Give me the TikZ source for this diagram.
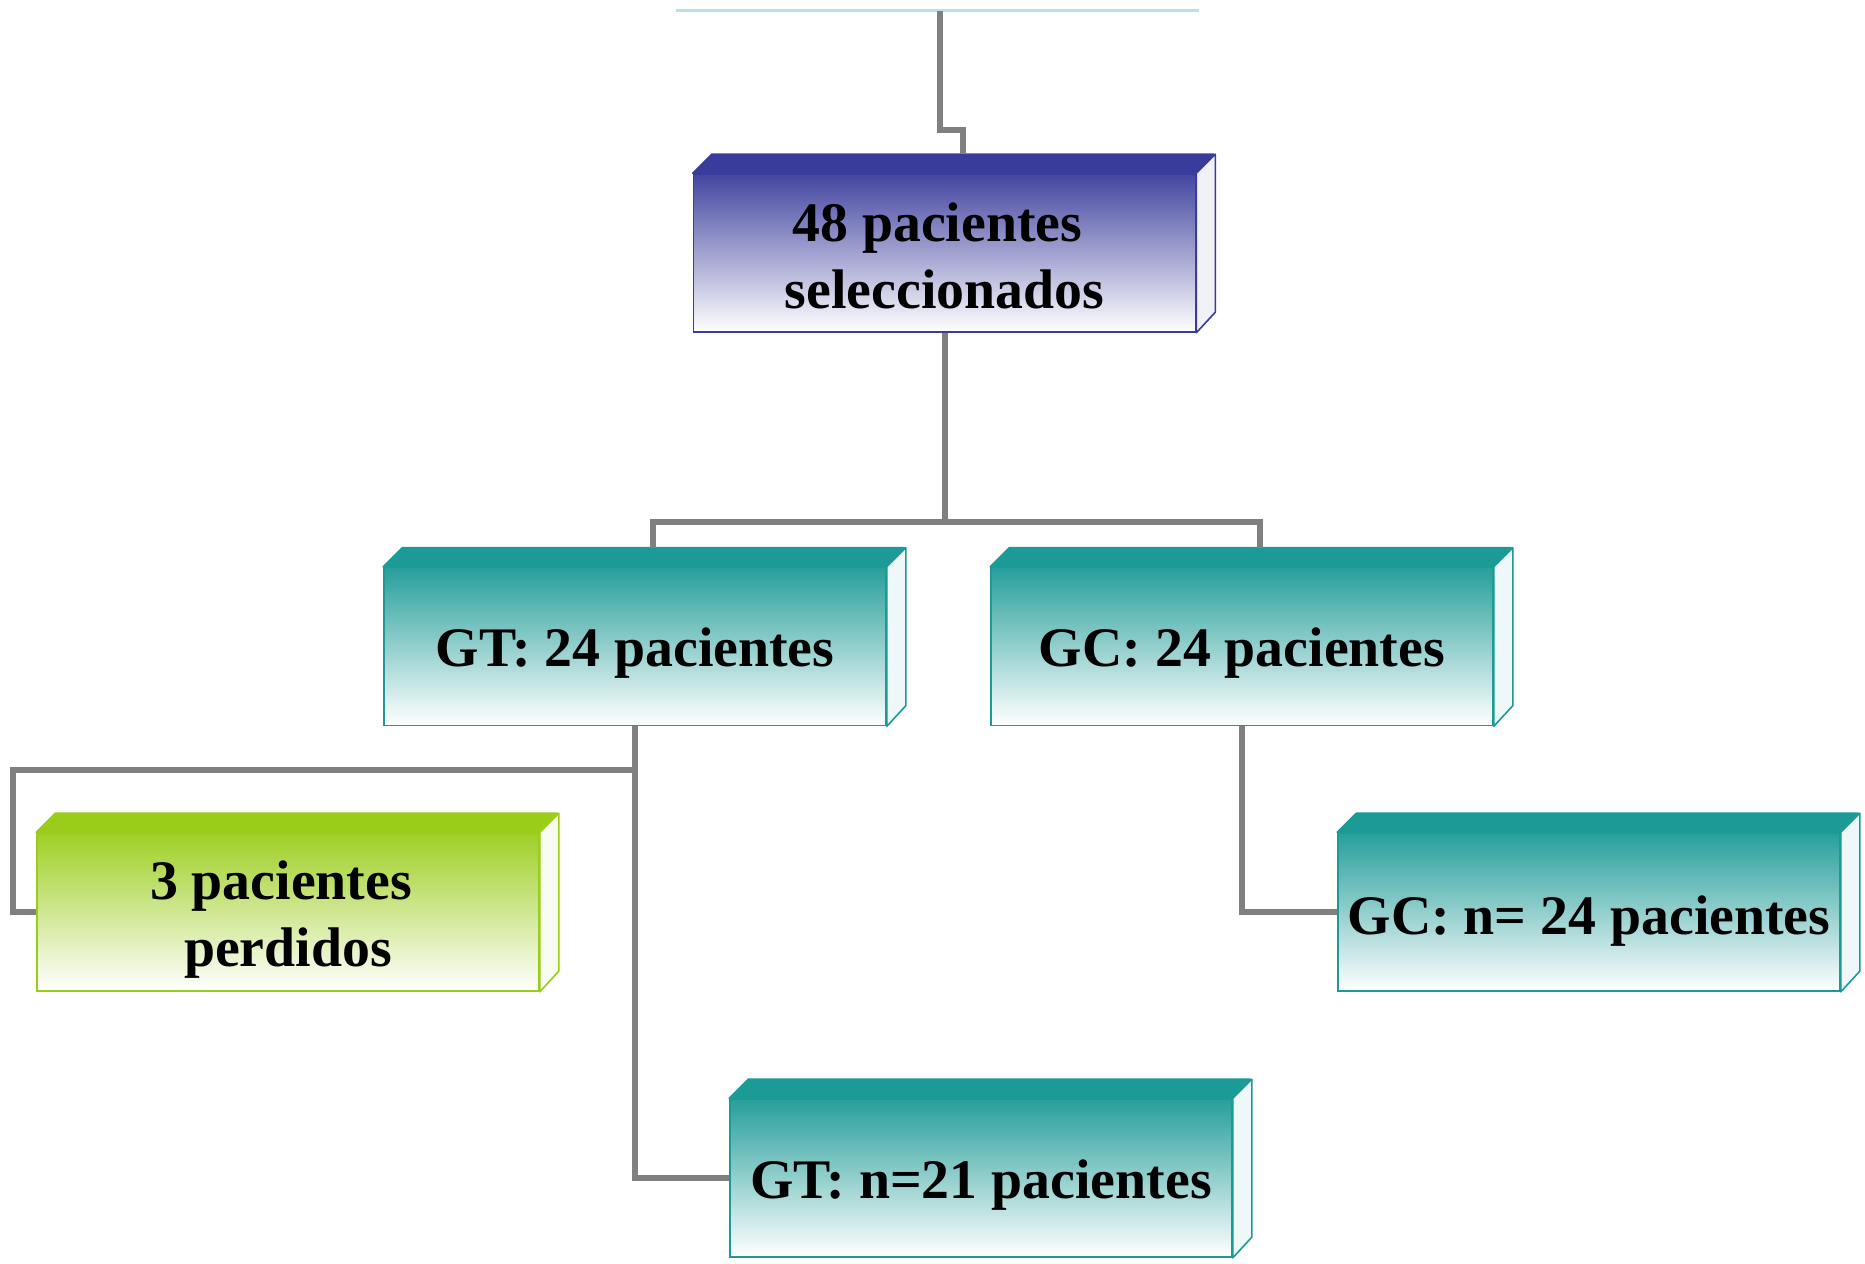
\documentclass[tikz,border=0pt]{standalone}
\usepackage{fontspec}
\setmainfont{Liberation Serif}
\definecolor{cblue}{HTML}{3A3C9C}
\definecolor{cteal}{HTML}{1B9A96}
\definecolor{cgreen}{HTML}{9ACD1A}
\definecolor{cline}{HTML}{808080}
\definecolor{ctop}{HTML}{B7E1E6}
\tikzset{
  cube/.style={draw=#1, line width=1.6pt, top color=#1!95!white, middle color=#1!30!white, bottom color=white,
    minimum width=502pt, minimum height=158pt, inner sep=0pt},
  boxtext/.style={align=center, text=black, inner sep=0pt,
    font=\bfseries\fontsize{55.8}{67}\selectfont},
  conn/.style={draw=cline, line width=6pt, line join=miter, line cap=butt},
}
\newcommand{\cubefaces}[2]{%
  \draw[draw=#2, line width=1.6pt, fill=#2, line join=round] (#1.north west) -- ++(19,-19) -- ++(502,0) -- (#1.north east) -- cycle;
  \draw[draw=#2, line width=1.6pt, fill=#2!7!white, line join=round] (#1.north east) -- ++(19,-19) -- ++(0,158) -- (#1.south east) -- cycle;
}
\begin{document}
\begin{tikzpicture}[x=1pt,y=-1pt]
\useasboundingbox (0,0) rectangle (1865,1263);
% top line
\draw[ctop, line width=3pt] (676,11) -- (1199,11);
\coordinate (root) at (940,11);
% boxes
\node[cube=cblue] (sel) at (944.5,253) {};
\node[cube=cteal] (gt) at (635,646.5) {};
\node[cube=cteal] (gc) at (1242,646.5) {};
\node[cube=cgreen] (lost) at (288,912) {};
\node[cube=cteal] (gcn) at (1589,912) {};
\node[cube=cteal] (gtn) at (981,1178) {};
\cubefaces{sel}{cblue}
\cubefaces{gt}{cteal}
\cubefaces{gc}{cteal}
\cubefaces{lost}{cgreen}
\cubefaces{gcn}{cteal}
\cubefaces{gtn}{cteal}
% texts
\node[boxtext] (sel-t) at ([yshift=-3pt]sel.center) {48 pacientes\hspace*{14pt}\\seleccionados};
\node[boxtext] (gt-t) at ([yshift=-7pt]gt.center) {GT: 24 pacientes};
\node[boxtext] (gc-t) at ([yshift=-7pt]gc.center) {GC: 24 pacientes};
\node[boxtext] (lost-t) at ([yshift=-8pt]lost.center) {3 pacientes\hspace*{14pt}\\perdidos};
\node[boxtext] (gcn-t) at ([yshift=-9pt]gcn.center) {GC: n= 24 pacientes};
\node[boxtext] (gtn-t) at ([yshift=-7pt]gtn.center) {GT: n=21 pacientes};
% connectors
\coordinate (j1) at (944.5,522);
\coordinate (j2) at (635,770);
\draw[conn] (root) -- (940,130) -| ([shift={(18,-19)}]sel.north);
\draw[conn] (sel.south) -- (j1);
\draw[conn] (j1) -| ([shift={(18,-19)}]gt.north);
\draw[conn] (j1) -| ([shift={(18,-19)}]gc.north);
\draw[conn] (gt.south) |- (gtn.west);
\draw[conn] (j2) -| (13,912) -- (lost.west);
\draw[conn] (gc.south) |- (gcn.west);
\end{tikzpicture}
\end{document}
